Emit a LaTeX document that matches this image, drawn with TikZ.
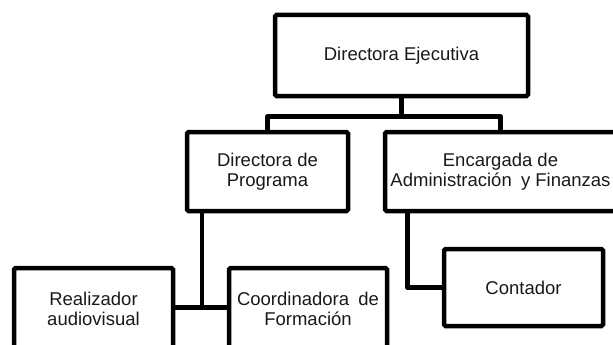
\documentclass[tikz,border=0pt]{standalone}
\usepackage{fontspec}
\setmainfont{Liberation Sans}
\begin{document}
\begin{tikzpicture}[x=1pt,y=1pt,
  box/.style={draw=black, line width=4.5pt, rounded corners=1.5pt, inner sep=0pt,
    align=center, text=black!90, font=\fontsize{18.5}{20}\selectfont},
  conn/.style={draw=black, line width=4.5pt, line join=round}]
\useasboundingbox (0,0) rectangle (613,-345);
\node[box, minimum width=253pt, minimum height=81pt] (top) at (401.5,-55.5) {Directora Ejecutiva};
\node[box, minimum width=161pt, minimum height=79pt] (dp) at (267.5,-171.5) {Directora de\\Programa};
\node[box, minimum width=231pt, minimum height=79pt] (enc) at (500.5,-171.5) {Encargada de\\Administración\enspace y Finanzas};
\node[box, minimum width=159pt, minimum height=82pt] (real) at (93.5,-309) {Realizador\\audiovisual};
\node[box, minimum width=158pt, minimum height=82pt] (coord) at (308,-309) {Coordinadora\enspace de\\Formación};
\node[box, minimum width=159pt, minimum height=77pt] (cont) at (523.5,-287.5) {Contador};
\coordinate (j1) at (202,-307.5);
\coordinate (j2) at (407.5,-287.5);
\draw[conn] (top.south) -- ++(0,-18) -| (dp.north);
\draw[conn] (top.south) -- ++(0,-18) -| (enc.north);
\draw[conn] (dp.south -| j1) -- (j1);
\draw[conn] (real.east |- j1) -- (coord.west |- j1);
\draw[conn] (enc.south -| j2) -- (j2) -- (cont.west);
\end{tikzpicture}
\end{document}
